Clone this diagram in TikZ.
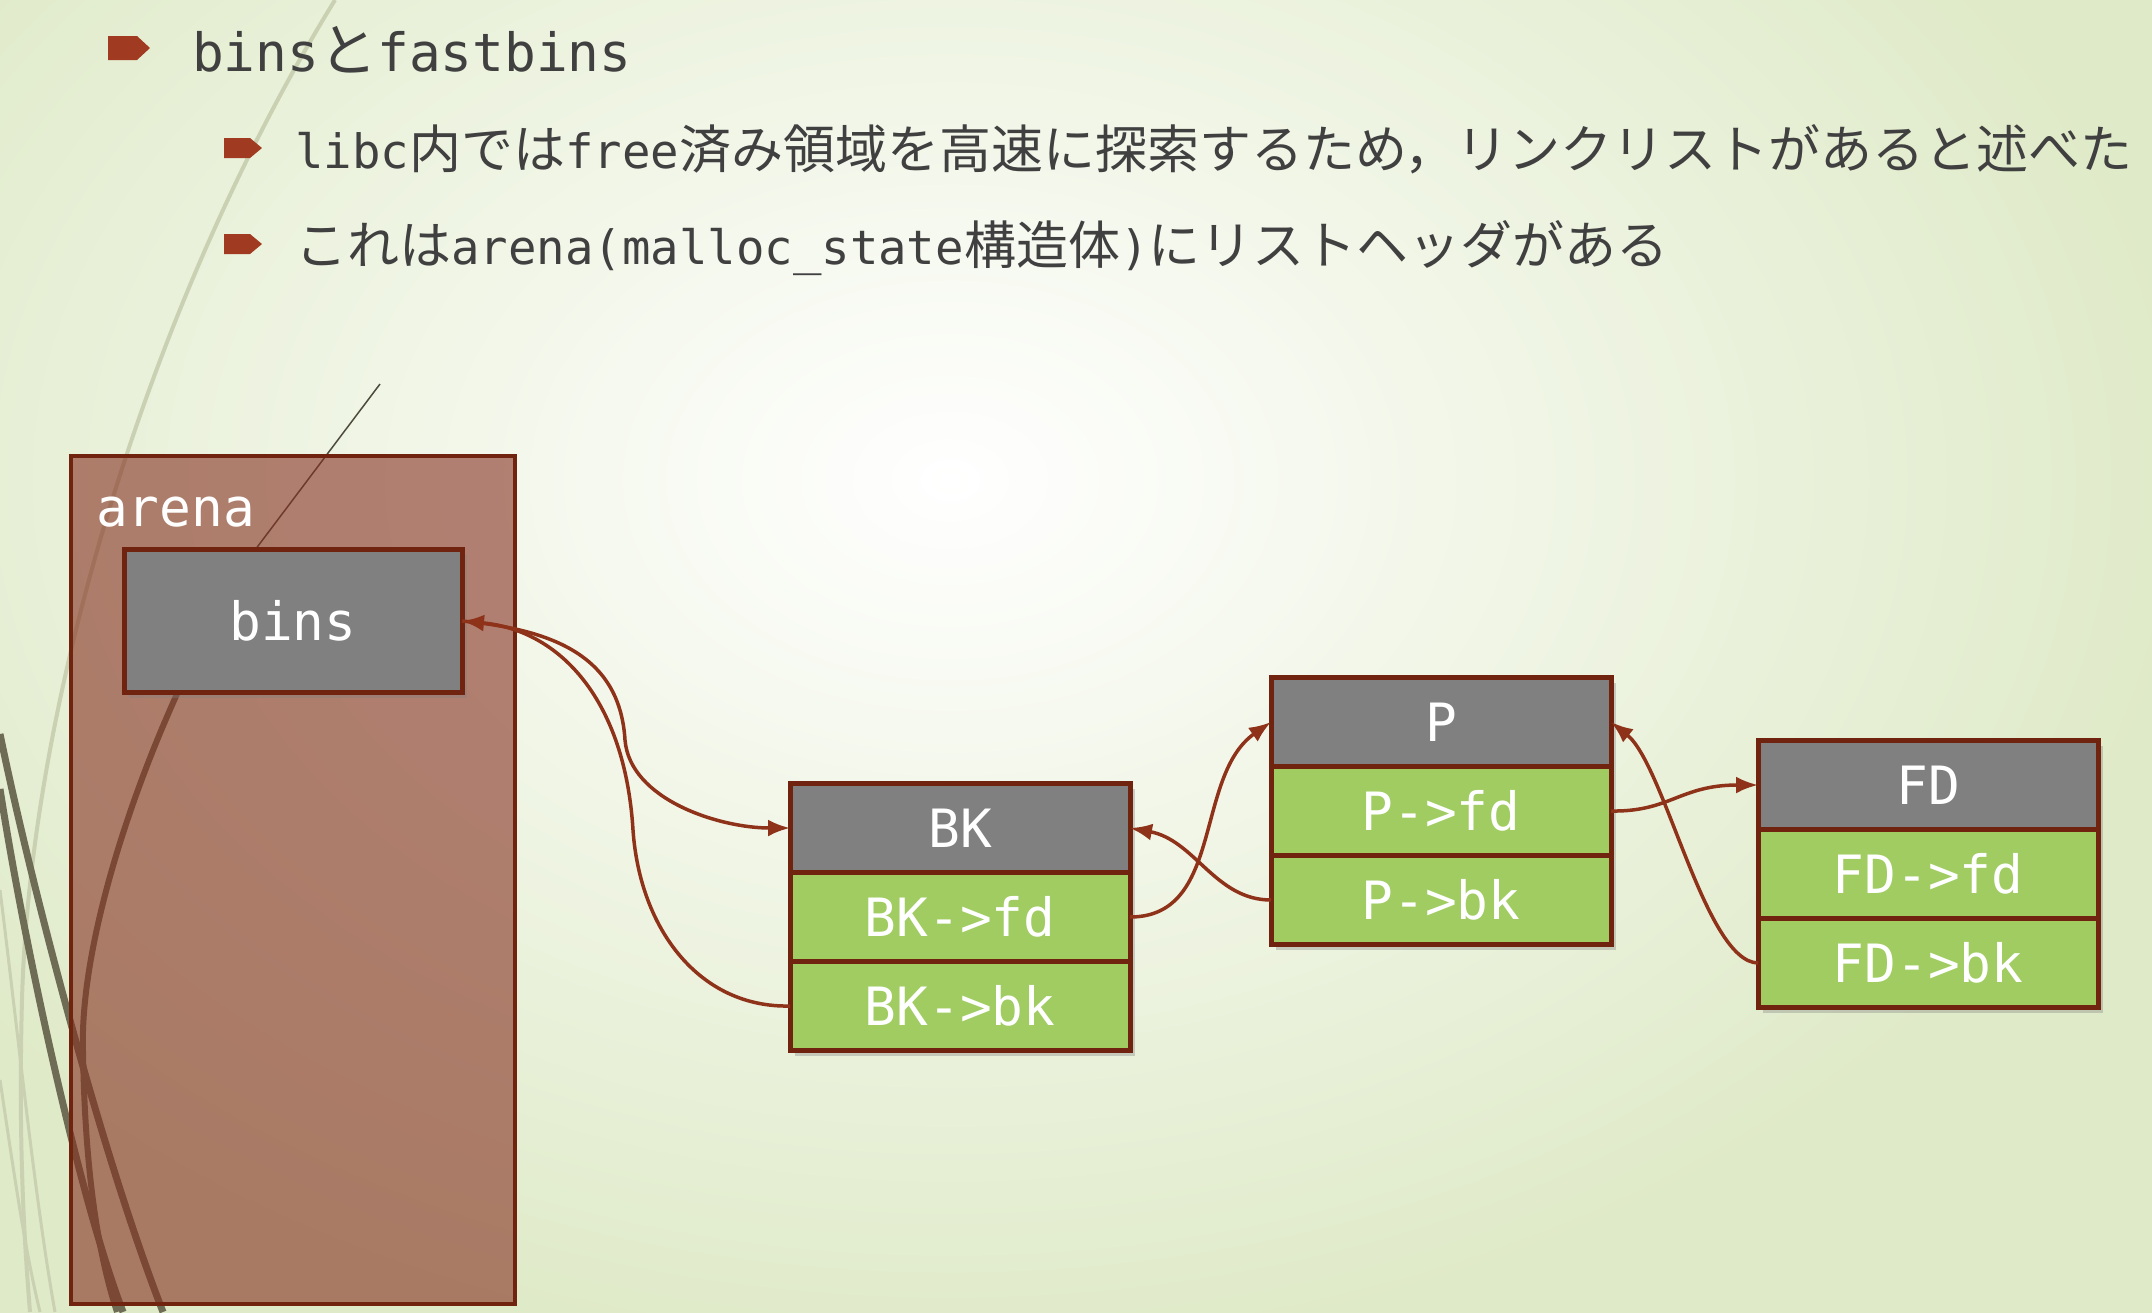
\documentclass[tikz,border=0pt]{standalone}
\usepackage{fontspec}
\setmainfont{Noto Sans CJK JP}
\newfontfamily\codefont[Scale=0.91]{DejaVu Sans Mono}
\usetikzlibrary{positioning,shadows,arrows.meta}

\definecolor{bgedge}{RGB}{223,234,200}
\definecolor{textgray}{RGB}{64,64,64}
\definecolor{bulletred}{RGB}{160,58,32}
\definecolor{boxline}{RGB}{112,36,16}
\definecolor{headgray}{RGB}{128,128,128}
\definecolor{fieldgreen}{RGB}{160,204,98}
\definecolor{arenafill}{RGB}{133,48,33}
\definecolor{linkred}{RGB}{142,50,26}
\definecolor{wisplight}{RGB}{202,208,178}
\definecolor{wispdark}{RGB}{110,108,85}

\tikzset{
  boxshadow/.style={drop shadow={shadow xshift=5pt,shadow yshift=-5pt,opacity=0.35}},
  chunkhead/.style={draw=boxline,line width=5pt,fill=headgray,text=white,
    minimum width=340pt,minimum height=89pt,inner sep=0pt,outer sep=0pt,
    font=\fontsize{58pt}{64pt}\selectfont\codefont,boxshadow},
  chunkfield/.style={chunkhead,fill=fieldgreen},
  binsbox/.style={chunkhead,minimum width=338pt,minimum height=143pt},
  arenabox/.style={draw=boxline,line width=4pt,fill=arenafill,fill opacity=0.6,
    draw opacity=1,minimum width=444pt,minimum height=848pt,inner sep=0pt,outer sep=0pt},
  link/.style={draw=linkred,line width=3.5pt,-{Latex[length=22pt,width=17pt]}},
  slidetext/.style={anchor=base west,inner sep=0pt,text=textgray}
}

\begin{document}
\begin{tikzpicture}[x=1pt,y=-1pt]
\useasboundingbox (0,0) rectangle (2152,1312);
\begin{scope}
  \clip (0,0) rectangle (2152,1312);
  \fill[bgedge] (0,0) rectangle (2152,1312);
  \shade[inner color=white,outer color=bgedge] (-300,-400) rectangle (2200,1360);
  % wisps on the left
  \draw[wisplight,line width=4pt] (335,0) .. controls (150,300) and (30,700) .. (22,1000)
    .. controls (18,1150) and (25,1250) .. (30,1312);
  \draw[wisplight,line width=3pt] (0,890) .. controls (20,1050) and (35,1200) .. (55,1312);
  \draw[wisplight,line width=3pt] (0,1080) .. controls (15,1180) and (25,1250) .. (40,1312);
  \draw[wispdark,line width=7pt] (0,734) .. controls (30,880) and (100,1150) .. (163,1312);
  \draw[wispdark,line width=7pt] (0,789) .. controls (25,950) and (80,1200) .. (123,1312);
  \draw[wispdark!70!black,line width=1.5pt] (380,384) -- (255,550);
  \draw[wispdark,line width=6pt] (177,694) .. controls (120,820) and (80,960) .. (83,1051)
    .. controls (85,1180) and (100,1260) .. (117,1312);
\end{scope}

% bullets and text
\fill[bulletred] (108,36) -- (137,36) -- (150,48) -- (137,60) -- (108,60) -- cycle;
\foreach \y in {148,244}
  \fill[bulletred] (224,\y-10) -- (250,\y-10) -- (262,\y) -- (250,\y+10) -- (224,\y+10) -- cycle;
\node[slidetext,font=\fontsize{58pt}{70pt}\selectfont] (title) at (192,71)
  {{\codefont bins}と{\codefont fastbins}};
\node[slidetext,font=\fontsize{52pt}{62pt}\selectfont] (line1) at (295,168)
  {{\codefont libc}内では{\codefont free}済み領域を高速に探索するため，リンクリストがあると述べた};
\node[slidetext,font=\fontsize{52pt}{62pt}\selectfont] (line2) at (295,264)
  {これは{\codefont arena(malloc\_state}構造体{\codefont )}にリストヘッダがある};

% arena
\node[arenabox] (arena) at (293,880) {};
\node[anchor=base west,inner sep=0pt,text=white,font=\fontsize{58pt}{64pt}\selectfont\codefont]
  (arenatxt) at (96,526) {arena};
\node[binsbox] (bins) at (293,621) {bins};

% chunks
\node[chunkhead] (BKhead) at (960,828) {BK};
\node[chunkfield,below=0pt of BKhead] (BKfd) {BK->fd};
\node[chunkfield,below=0pt of BKfd] (BKbk) {BK->bk};

\node[chunkhead] (Phead) at (1441,722) {P};
\node[chunkfield,below=0pt of Phead] (Pfd) {P->fd};
\node[chunkfield,below=0pt of Pfd] (Pbk) {P->bk};

\node[chunkhead] (FDhead) at (1928,785) {FD};
\node[chunkfield,below=0pt of FDhead] (FDfd) {FD->fd};
\node[chunkfield,below=0pt of FDfd] (FDbk) {FD->bk};

% links
\draw[link] (bins.east) .. controls (560,630) and (620,660) .. (625,740)
  .. controls (630,800) and (720,828) .. (BKhead.west);
\draw[link] (BKbk.west) .. controls (700,1008) and (640,930) .. (633,830)
  .. controls (625,700) and (560,630) .. (bins.east);
\draw[link] (BKfd.east) to[out=0,in=-145] (Phead.west);
\draw[link] (Pbk.west) .. controls (1215,900) and (1195,840) .. (BKhead.east);
\draw[link] (Pfd.east) .. controls (1670,812) and (1680,785) .. (FDhead.west);
\draw[link] (FDbk.west) .. controls (1705,962) and (1665,765) .. (Phead.east);
\end{tikzpicture}
\end{document}
